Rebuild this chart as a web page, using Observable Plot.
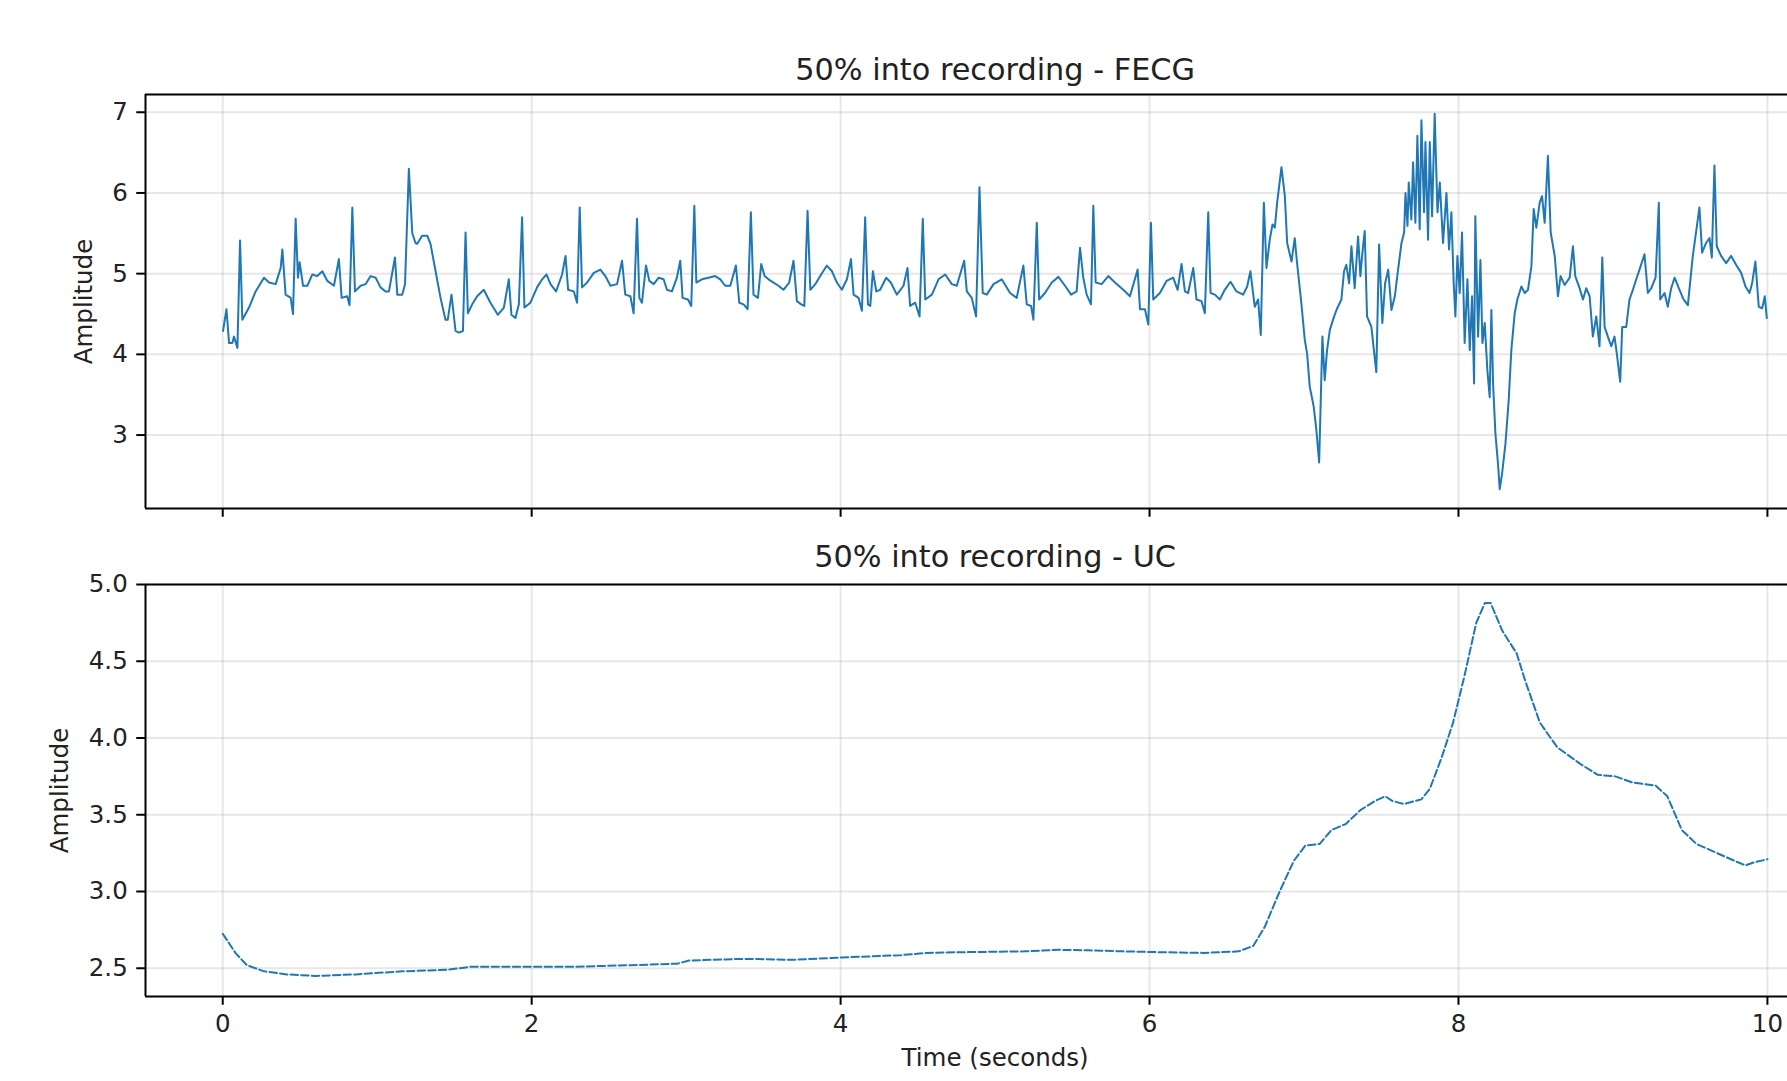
<!DOCTYPE html>
<html>
<head>
<meta charset="utf-8">
<script src="https://cdn.jsdelivr.net/npm/d3@7"></script>
<script src="https://cdn.jsdelivr.net/npm/@observablehq/plot@0.6"></script>
<style>
html, body { margin: 0; padding: 0; background: #fff; overflow: hidden; }
#chart { width: 1787px; height: 1081px; }
#chart svg { display: block; }
</style>
</head>
<body>
<div id="chart"></div>
<script>
// ---------- data ----------
const fecgTime = [
  0.002,0.024,0.041,0.062,0.073,0.095,0.112,0.127,0.170,0.213,0.267,0.300,0.343,0.375,0.386,0.407,0.440,0.455,
  0.472,0.487,0.498,0.520,0.548,0.580,0.612,0.645,0.677,0.720,0.752,0.770,0.806,0.821,0.839,0.856,0.893,0.925,
  0.957,0.990,1.022,1.054,1.076,1.115,1.130,1.162,1.180,1.205,1.227,1.248,1.259,1.291,1.324,1.345,1.378,1.410,
  1.442,1.457,1.481,1.507,1.529,1.555,1.572,1.587,1.615,1.647,1.690,1.733,1.781,1.820,1.852,1.869,1.895,1.917,
  1.938,1.953,1.992,2.035,2.068,2.096,2.122,2.158,2.197,2.219,2.236,2.273,2.294,2.311,2.326,2.359,2.402,2.445,
  2.477,2.510,2.553,2.585,2.606,2.639,2.660,2.682,2.697,2.714,2.740,2.762,2.790,2.822,2.854,2.876,2.908,2.940,
  2.962,2.977,3.012,3.033,3.053,3.066,3.102,3.145,3.188,3.221,3.253,3.286,3.322,3.344,3.372,3.398,3.419,3.436,
  3.465,3.486,3.508,3.533,3.566,3.598,3.630,3.667,3.695,3.717,3.745,3.765,3.786,3.804,3.836,3.868,3.911,3.944,
  3.976,4.008,4.041,4.067,4.084,4.116,4.138,4.159,4.177,4.192,4.209,4.231,4.256,4.295,4.325,4.364,4.407,4.433,
  4.450,4.483,4.511,4.532,4.548,4.591,4.634,4.677,4.720,4.752,4.800,4.817,4.849,4.877,4.899,4.920,4.946,4.990,
  5.043,5.097,5.140,5.183,5.205,5.233,5.248,5.270,5.285,5.323,5.367,5.410,5.453,5.492,5.528,5.550,5.571,5.593,
  5.621,5.636,5.651,5.690,5.733,5.776,5.830,5.873,5.923,5.938,5.970,5.992,6.009,6.024,6.067,6.110,6.153,6.182,
  6.207,6.229,6.250,6.283,6.304,6.336,6.358,6.380,6.395,6.423,6.455,6.487,6.524,6.563,6.606,6.632,6.653,6.681,
  6.703,6.720,6.740,6.757,6.778,6.796,6.811,6.826,6.854,6.876,6.891,6.919,6.940,6.955,6.983,7.005,7.020,7.037,
  7.063,7.080,7.098,7.119,7.134,7.149,7.167,7.188,7.210,7.242,7.259,7.274,7.292,7.307,7.328,7.350,7.365,7.378,
  7.393,7.408,7.436,7.468,7.486,7.507,7.525,7.545,7.566,7.588,7.609,7.631,7.648,7.657,7.670,7.678,7.695,7.706,
  7.721,7.734,7.749,7.760,7.777,7.786,7.803,7.814,7.829,7.846,7.864,7.879,7.900,7.922,7.939,7.954,7.969,7.980,
  7.993,8.008,8.023,8.040,8.058,8.073,8.088,8.101,8.109,8.127,8.142,8.155,8.170,8.187,8.202,8.213,8.224,8.239,
  8.256,8.267,8.282,8.304,8.325,8.342,8.364,8.381,8.407,8.429,8.450,8.472,8.487,8.504,8.526,8.541,8.558,8.579,
  8.597,8.623,8.644,8.661,8.687,8.720,8.741,8.756,8.784,8.806,8.827,8.849,8.870,8.892,8.913,8.931,8.946,8.967,
  8.989,9.010,9.025,9.047,9.060,9.086,9.107,9.129,9.151,9.172,9.204,9.226,9.248,9.276,9.297,9.306,9.334,9.355,
  9.377,9.399,9.431,9.457,9.485,9.517,9.560,9.577,9.603,9.625,9.640,9.657,9.672,9.700,9.733,9.765,9.797,9.830,
  9.858,9.884,9.901,9.922,9.944,9.966,9.983,9.996
];
const fecgAmp = [
  4.29,4.56,4.14,4.14,4.22,4.08,5.41,4.43,4.58,4.78,4.95,4.89,4.87,5.07,5.30,4.74,4.70,4.50,
  5.68,4.95,5.14,4.85,4.85,4.99,4.97,5.03,4.91,4.85,5.18,4.70,4.72,4.61,5.82,4.78,4.85,4.87,
  4.97,4.95,4.83,4.78,4.78,5.20,4.74,4.74,4.87,6.30,5.50,5.38,5.37,5.47,5.47,5.37,5.03,4.70,
  4.43,4.43,4.74,4.29,4.27,4.29,5.51,4.51,4.62,4.72,4.80,4.64,4.49,4.58,4.93,4.49,4.45,4.62,
  5.70,4.58,4.64,4.83,4.93,4.99,4.87,4.78,4.99,5.22,4.80,4.78,4.64,5.82,4.83,4.89,5.01,5.05,
  4.97,4.85,4.87,5.16,4.74,4.72,4.51,5.68,4.70,4.64,5.10,4.91,4.87,4.95,4.93,4.80,4.78,4.95,
  5.16,4.70,4.68,4.60,5.84,4.89,4.93,4.95,4.97,4.93,4.85,4.85,5.10,4.64,4.62,4.56,5.76,4.74,
  4.70,5.12,4.97,4.93,4.89,4.85,4.80,4.89,5.16,4.66,4.62,4.60,5.78,4.80,4.87,4.97,5.10,5.03,
  4.89,4.80,4.93,5.18,4.74,4.70,4.54,5.70,4.62,4.60,5.03,4.78,4.80,4.95,4.89,4.74,4.85,5.07,
  4.60,4.64,4.47,5.68,4.68,4.74,4.93,4.99,4.87,4.85,5.16,4.78,4.70,4.47,6.07,4.76,4.74,4.87,
  4.93,4.76,4.70,5.10,4.62,4.60,4.43,5.63,4.68,4.76,4.89,4.96,4.85,4.74,4.78,5.32,4.95,4.74,
  4.62,5.84,4.89,4.87,4.97,4.89,4.80,4.72,5.05,4.56,4.56,4.37,5.63,4.68,4.76,4.91,4.95,4.80,
  5.12,4.78,4.76,5.07,4.68,4.66,4.51,5.76,4.76,4.74,4.68,4.80,4.90,4.78,4.74,4.84,5.03,4.59,
  4.68,4.24,5.88,5.07,5.42,5.61,5.57,5.88,6.32,5.96,5.38,5.15,5.44,5.13,4.63,4.18,4.01,3.60,
  3.35,3.06,2.66,4.22,3.68,4.05,4.30,4.43,4.55,4.68,5.03,5.11,4.88,5.34,4.82,5.46,4.97,5.26,
  5.53,4.47,4.34,3.78,5.36,4.39,4.88,5.05,4.55,4.72,5.05,5.38,5.51,6.00,5.59,6.13,5.67,6.38,
  5.63,6.71,5.55,6.90,5.76,6.63,5.42,6.63,5.71,6.98,5.76,6.13,5.38,6.00,5.30,5.76,4.88,4.47,
  5.22,4.76,5.51,4.14,4.93,4.05,4.72,3.64,5.71,4.22,5.17,4.14,4.39,3.80,3.47,4.55,3.64,3.02,
  2.64,2.33,2.52,2.89,3.43,4.05,4.51,4.68,4.84,4.76,4.80,5.09,5.80,5.57,5.88,5.96,5.63,6.46,
  5.51,5.22,4.72,4.97,4.86,4.95,5.34,4.97,4.82,4.68,4.82,4.72,4.22,4.47,4.10,5.20,4.34,4.22,
  4.10,4.22,4.01,3.66,4.34,4.34,4.68,4.80,4.93,5.05,5.24,4.76,4.82,4.95,5.88,4.68,4.76,4.59,
  4.82,4.95,4.80,4.68,4.61,5.22,5.82,5.26,5.38,5.44,5.20,6.34,5.34,5.22,5.13,5.22,5.11,5.01,
  4.84,4.76,4.88,5.15,4.59,4.57,4.72,4.45
];
const ucTime = [
  0.000,0.082,0.156,0.268,0.416,0.602,0.862,1.160,1.457,1.606,1.903,2.275,2.647,2.944,3.019,3.316,3.465,3.688,
  4.000,4.387,4.553,4.815,5.190,5.415,5.603,5.828,6.052,6.352,6.577,6.671,6.746,6.840,6.934,7.009,7.102,7.177,
  7.271,7.365,7.459,7.526,7.571,7.646,7.759,7.815,7.890,7.965,8.040,8.115,8.171,8.208,8.283,8.377,8.433,8.527,
  8.639,8.790,8.902,9.015,9.127,9.277,9.352,9.446,9.540,9.652,9.764,9.858,9.914,10.000
];
const ucAmp = [
  2.725,2.60,2.52,2.48,2.46,2.45,2.46,2.48,2.49,2.51,2.51,2.51,2.52,2.53,2.55,2.56,2.56,2.555,
  2.57,2.585,2.60,2.605,2.61,2.62,2.617,2.61,2.605,2.60,2.61,2.645,2.77,2.995,3.20,3.30,3.31,3.40,
  3.44,3.53,3.59,3.62,3.59,3.57,3.60,3.67,3.87,4.10,4.41,4.75,4.88,4.88,4.70,4.55,4.37,4.10,
  3.94,3.83,3.76,3.75,3.71,3.69,3.62,3.40,3.31,3.26,3.21,3.17,3.19,3.21
];
const xTicks = [0, 2, 4, 6, 8, 10];
const fecgYTicks = [3, 4, 5, 6, 7];
const ucYTicks = [2.5, 3.0, 3.5, 4.0, 4.5, 5.0];
const titles = ["50% into recording - FECG", "50% into recording - UC"];
const yLabel = "Amplitude";
const xLabel = "Time (seconds)";

// ---------- layout / style ----------
const W = 1787;
const fullXDomain = [-0.5, 10.5];          // matplotlib axes extent (right part is cropped by the window)
const xDomain = [-0.5, 10.13];             // visible part of the axes
const xCenter = d3.mean(fullXDomain);
const fecgYDomain = [2.09, 7.22];
const ucYDomain = [2.316, 5.0];
const blue = "#1f77b4";
const font = "DejaVu Sans";
const tickFont = 24.5;
const titleFont = 30.3;
const textColor = "#222";
const gridStyle = {stroke: "#b0b0b0", strokeOpacity: 0.3, strokeWidth: 2};
const spine = {stroke: "#000", strokeWidth: 2};

const fecg = fecgTime.map((t, i) => ({t, v: fecgAmp[i]}));
const uc = ucTime.map((t, i) => ({t, v: ucAmp[i]}));

const baseStyle = {fontFamily: font, fontSize: tickFont + "px", color: textColor, background: "#fff"};

const p1 = Plot.plot({
  width: W, height: 540,
  marginLeft: 145, marginRight: 0, marginTop: 94, marginBottom: 32,
  style: baseStyle,
  x: {domain: xDomain},
  y: {domain: fecgYDomain},
  marks: [
    Plot.gridX(xTicks, gridStyle),
    Plot.gridY(fecgYTicks, gridStyle),
    Plot.line(fecg, {x: "t", y: "v", stroke: blue, strokeWidth: 2}),
    Plot.axisY(fecgYTicks, {tickSize: 8.75, tickPadding: 9, fontSize: tickFont, label: null, stroke: "#000", strokeWidth: 2, tickFormat: d => String(d)}),
    Plot.axisX(xTicks, {tickSize: 8.75, fill: "none", label: null, stroke: "#000", strokeWidth: 2}),
    Plot.ruleX([xDomain[0]], spine),
    Plot.ruleY(fecgYDomain, spine),
    Plot.text([titles[0]], {x: () => xCenter, frameAnchor: "top", lineAnchor: "bottom", dy: -15, fontSize: titleFont, fill: textColor}),
    Plot.text([yLabel], {frameAnchor: "left", rotate: -90, dx: -61, textAnchor: "middle", lineAnchor: "middle", fontSize: tickFont, fill: textColor})
  ]
});

const p2 = Plot.plot({
  width: W, height: 541,
  marginLeft: 145, marginRight: 0, marginTop: 44, marginBottom: 85,
  style: baseStyle,
  x: {domain: xDomain},
  y: {domain: ucYDomain},
  marks: [
    Plot.gridX(xTicks, gridStyle),
    Plot.gridY(ucYTicks, gridStyle),
    Plot.line(uc, {x: "t", y: "v", stroke: blue, strokeWidth: 2, strokeDasharray: "7.4,3.2"}),
    Plot.axisY(ucYTicks, {tickSize: 8.75, tickPadding: 9, fontSize: tickFont, label: null, stroke: "#000", strokeWidth: 2, tickFormat: d3.format(".1f")}),
    Plot.axisX(xTicks, {tickSize: 8.75, tickPadding: 9, fontSize: tickFont, label: null, stroke: "#000", strokeWidth: 2, tickFormat: d => String(d)}),
    Plot.ruleX([xDomain[0]], spine),
    Plot.ruleY(ucYDomain, spine),
    Plot.text([titles[1]], {x: () => xCenter, frameAnchor: "top", lineAnchor: "bottom", dy: -18, fontSize: titleFont, fill: textColor}),
    Plot.text([yLabel], {frameAnchor: "left", rotate: -90, dx: -85, textAnchor: "middle", lineAnchor: "middle", fontSize: tickFont, fill: textColor}),
    Plot.text([xLabel], {x: () => xCenter, frameAnchor: "bottom", lineAnchor: "bottom", dy: 69, fontSize: tickFont, fill: textColor})
  ]
});

const root = document.getElementById("chart");
root.appendChild(p1);
root.appendChild(p2);
</script>
</body>
</html>
